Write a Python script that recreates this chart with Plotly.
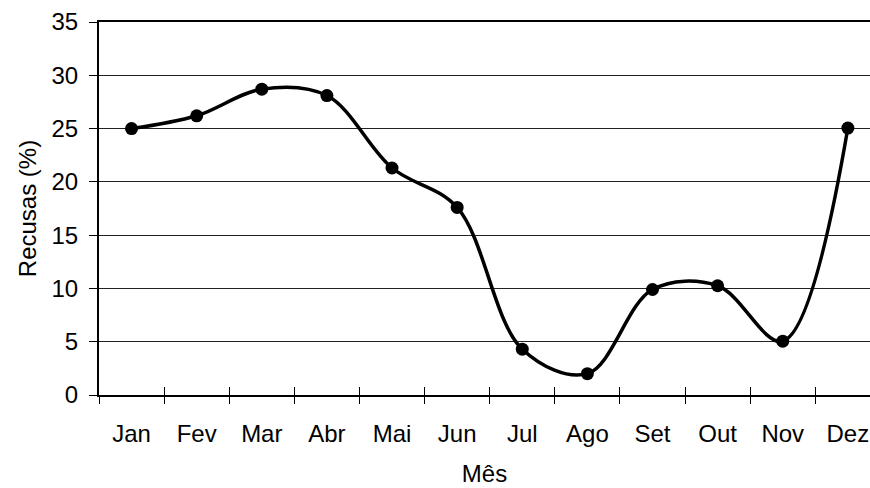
import plotly.graph_objects as go

months = ["Jan", "Fev", "Mar", "Abr", "Mai", "Jun", "Jul", "Ago", "Set", "Out", "Nov", "Dez"]
recusas = [25.0, 26.2, 28.7, 28.1, 21.3, 17.6, 4.3, 2.0, 9.9, 10.25, 5.05, 25.05]
y_ticks = [0, 5, 10, 15, 20, 25, 30, 35]

idx = list(range(len(months)))
bounds = [i - 0.5 for i in range(len(months))]
xr = [-0.5, 11.34]
FONT = "Liberation Sans, Arial, sans-serif"
FS = 24

fig = go.Figure()
fig.add_trace(go.Scatter(
    x=idx, y=recusas, mode="lines+markers",
    line=dict(color="black", width=3.5, shape="spline", smoothing=1.0),
    marker=dict(color="black", size=13),
    showlegend=False, hoverinfo="skip",
))
for ax in ["x2", "x3"]:
    fig.add_trace(go.Scatter(x=[0], y=[0], xaxis=ax, yaxis="y", mode="markers",
                             marker=dict(opacity=0), showlegend=False, hoverinfo="skip"))

fig.update_layout(
    width=870, height=488, autosize=False,
    margin=dict(l=99, r=0, t=22, b=93, autoexpand=False),
    paper_bgcolor="white", plot_bgcolor="white",
    font=dict(family=FONT, size=FS, color="black"),
    xaxis=dict(
        range=xr, tickmode="array", tickvals=idx, ticktext=months,
        ticks="", showgrid=False, zeroline=False,
        showline=True, linecolor="black", linewidth=2, mirror=True,
        tickfont=dict(size=FS), ticklabelstandoff=16,
        title=dict(text="Mês", font=dict(size=FS), standoff=19),
    ),
    xaxis2=dict(
        range=xr, overlaying="x", anchor="y", side="bottom",
        tickmode="array", tickvals=bounds, showticklabels=False,
        ticks="outside", ticklen=8, tickcolor="black", tickwidth=1,
        showgrid=False, zeroline=False, showline=False,
    ),
    xaxis3=dict(
        range=xr, overlaying="x", anchor="y", side="bottom",
        tickmode="array", tickvals=bounds, showticklabels=False,
        ticks="inside", ticklen=8, tickcolor="black", tickwidth=1,
        showgrid=False, zeroline=False, showline=False,
    ),
    yaxis=dict(
        range=[0, 35], tickmode="array", tickvals=y_ticks,
        ticks="outside", ticklen=8, tickcolor="black", tickwidth=1,
        showgrid=True, gridcolor="#222222", gridwidth=1,
        zeroline=False, showline=True, linecolor="black", linewidth=2,
        tickfont=dict(size=FS), ticklabelstandoff=6,
        title=dict(text="Recusas (%)", font=dict(size=FS), standoff=8),
    ),
)

fig.write_html(
    "out.html",
    config={"displayModeBar": False, "staticPlot": True},
    post_script="document.body.style.margin='0';document.body.style.overflow='hidden';",
)
